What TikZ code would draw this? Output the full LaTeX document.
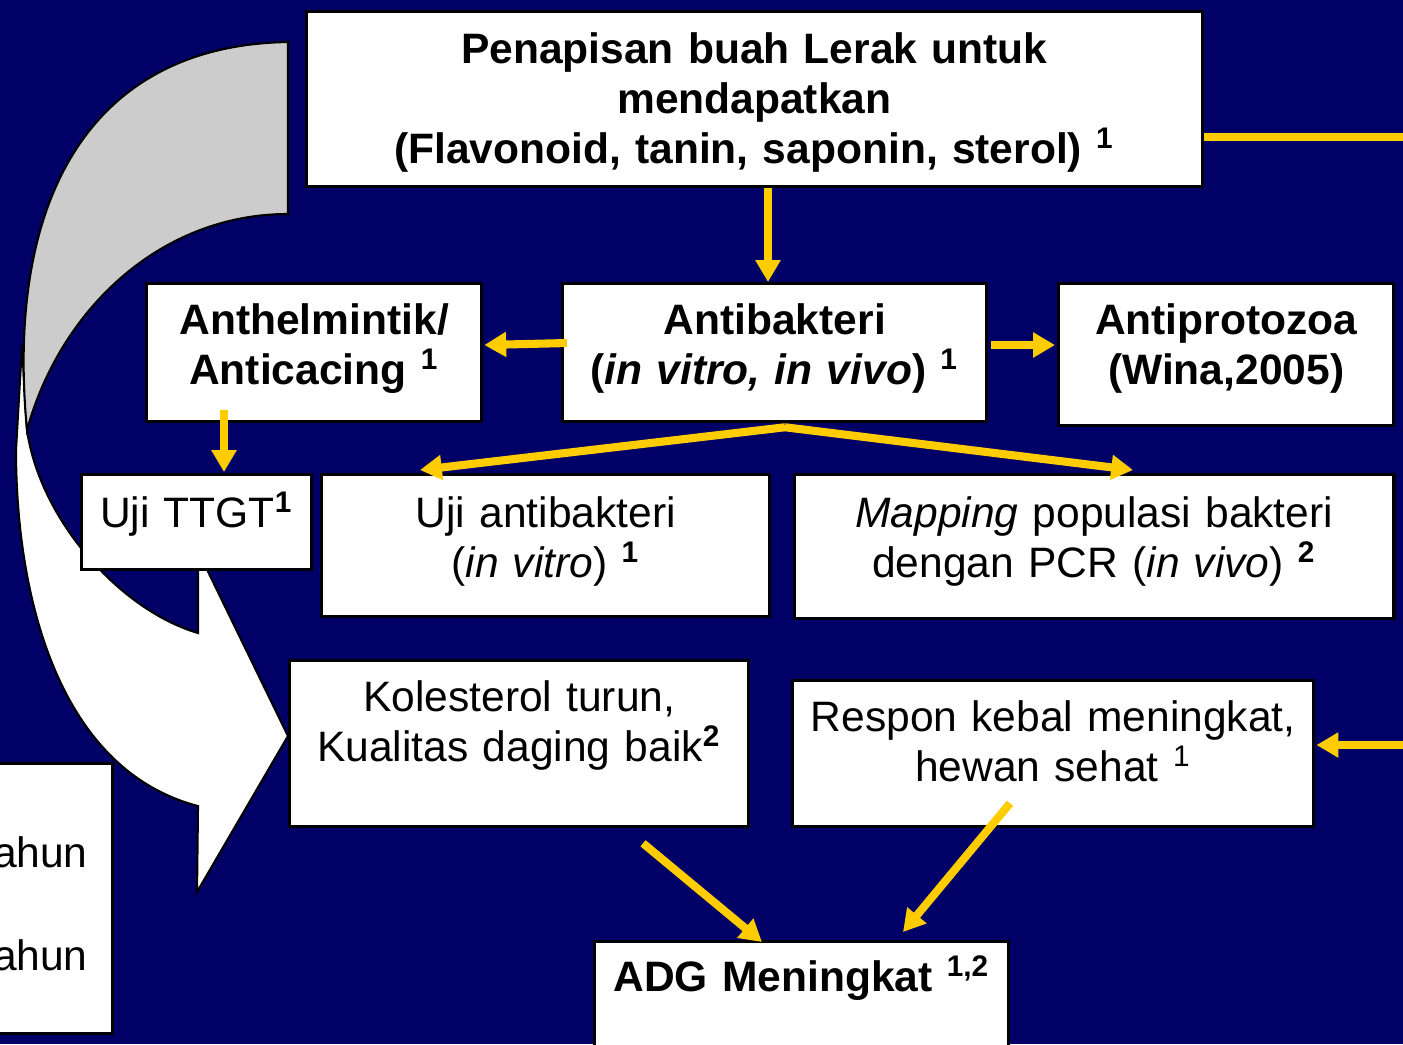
\documentclass[tikz,border=0pt]{standalone}
\usepackage{fontspec}
\setmainfont{Liberation Sans}
\usetikzlibrary{arrows.meta,calc}
\definecolor{navy}{RGB}{0,0,102}
\definecolor{gold}{RGB}{255,204,0}
\definecolor{lgray}{RGB}{204,204,204}
\newcommand{\nodefont}{\fontsize{12.1}{14.23}\selectfont}

\begin{document}
\begin{tikzpicture}[x=0.01cm, y=-0.01cm,
    every node/.style={font=\nodefont},
    heavy/.style={font=\nodefont\bfseries},
    cell/.style n args={3}{draw=black, line width=0.9pt, fill=white, anchor=north west, inner sep=0pt, align=center, text width=#1, text height=#2, text depth=#3},
    yarrow/.style={draw=gold, line width=2.3pt, -{Triangle[width=6.8pt,length=6.2pt]}}]
  \useasboundingbox (0,0) rectangle (1403,1044);
  \clip (0,0) rectangle (1403,1044);
  \fill[navy] (0,0) rectangle (1403,1044);
  % curved arrow
  \filldraw[fill=white, draw=black, line width=0.6pt] (22,345) -- (16,450) .. controls (16,600) and (60,770) .. (198,806) -- (197,892) -- (288,736) -- (198,551) -- (198,633) .. controls (120,610) and (40,520) .. (27,430) -- cycle;
  \filldraw[fill=lgray, draw=black, line width=0.6pt] (288,42) .. controls (90,45) and (5,200) .. (27,430) .. controls (60,310) and (160,214) .. (288,214) -- cycle;
  % boxes
  \node[cell={8.95cm}{0.52cm}{1.23cm}, heavy] (screen) at (305,10) {Penapisan buah Lerak untuk\\ mendapatkan\\ (Flavonoid, tanin, saponin, sterol) \textsuperscript{1}};
  \node[cell={4.24cm}{0.51cm}{0.87cm}, heavy] (anti) at (561,282) {Antibakteri\\ (\textit{in vitro, in vivo}) \textsuperscript{1}};
  \node[cell={3.35cm}{0.51cm}{0.87cm}, heavy] (anthel) at (145,282) {Anthelmintik/\\ Anticacing \textsuperscript{1}};
  \node[cell={3.35cm}{0.51cm}{0.91cm}, heavy] (antipro) at (1057,282) {Antiprotozoa\\ (Wina,2005)};
  \node[cell={2.30cm}{0.53cm}{0.42cm}] (ttgt) at (80,473) {Uji TTGT\textsuperscript{\bfseries 1}};
  \node[cell={4.48cm}{0.53cm}{0.89cm}] (uanti) at (320,473) {Uji antibakteri\\ (\textit{in vitro}) \textsuperscript{\bfseries 1}};
  \node[cell={5.99cm}{0.53cm}{0.91cm}] (map) at (793,473) {\textit{Mapping} populasi bakteri\\ dengan PCR (\textit{in vivo}) \textsuperscript{\bfseries 2}};
  \node[cell={4.59cm}{0.51cm}{1.15cm}] (kol) at (288,659) {Kolesterol turun,\\ Kualitas daging baik\textsuperscript{\bfseries 2}};
  \node[cell={5.21cm}{0.51cm}{0.95cm}] (respon) at (791,679) {Respon kebal meningkat,\\ hewan sehat \textsuperscript{1}};
  \node[cell={4.14cm}{0.50cm}{0.70cm}, heavy] (adg) at (593,940) {ADG Meningkat \textsuperscript{1,2}};
  \node[cell={1.21cm}{1.04cm}{1.66cm}, inner xsep=0.25cm, align=right] (years) at (-60,762) {ahun\\[0.53cm] ahun};
  % connectors
  \draw[yarrow] ($(screen.south west)+(463,0)$) -- ($(anti.north west)+(207,0)$);
  \draw[yarrow] ($(anti.north west)+(6,61)$) -- ($(anthel.north east)+(1,63)$);
  \draw[yarrow] ($(anti.north east)+(3,63)$) -- ($(antipro.north west)+(-2,63)$);
  \draw[yarrow] ($(anthel.south west)+(79,-13)$) -- ($(ttgt.north west)+(144,-1)$);
  \draw[yarrow] ($(anti.south west)+(224,4)$) -- ($(uanti.north west)+(100,-3)$);
  \draw[yarrow] ($(anti.south west)+(224,4)$) -- ($(map.north west)+(340,-3)$);
  \draw[gold, line width=2.3pt] ($(screen.north east)+(0,127)$) -- ++(210,0);
  \draw[yarrow] ($(respon.north east)+(100,66)$) -- ($(respon.north east)+(1,66)$);
  \draw[yarrow] ($(kol.south west)+(355,15)$) -- ($(adg.north west)+(169,2)$);
  \draw[yarrow] ($(respon.south west)+(219,-25)$) -- ($(adg.north west)+(310,-8)$);
\end{tikzpicture}
\end{document}
